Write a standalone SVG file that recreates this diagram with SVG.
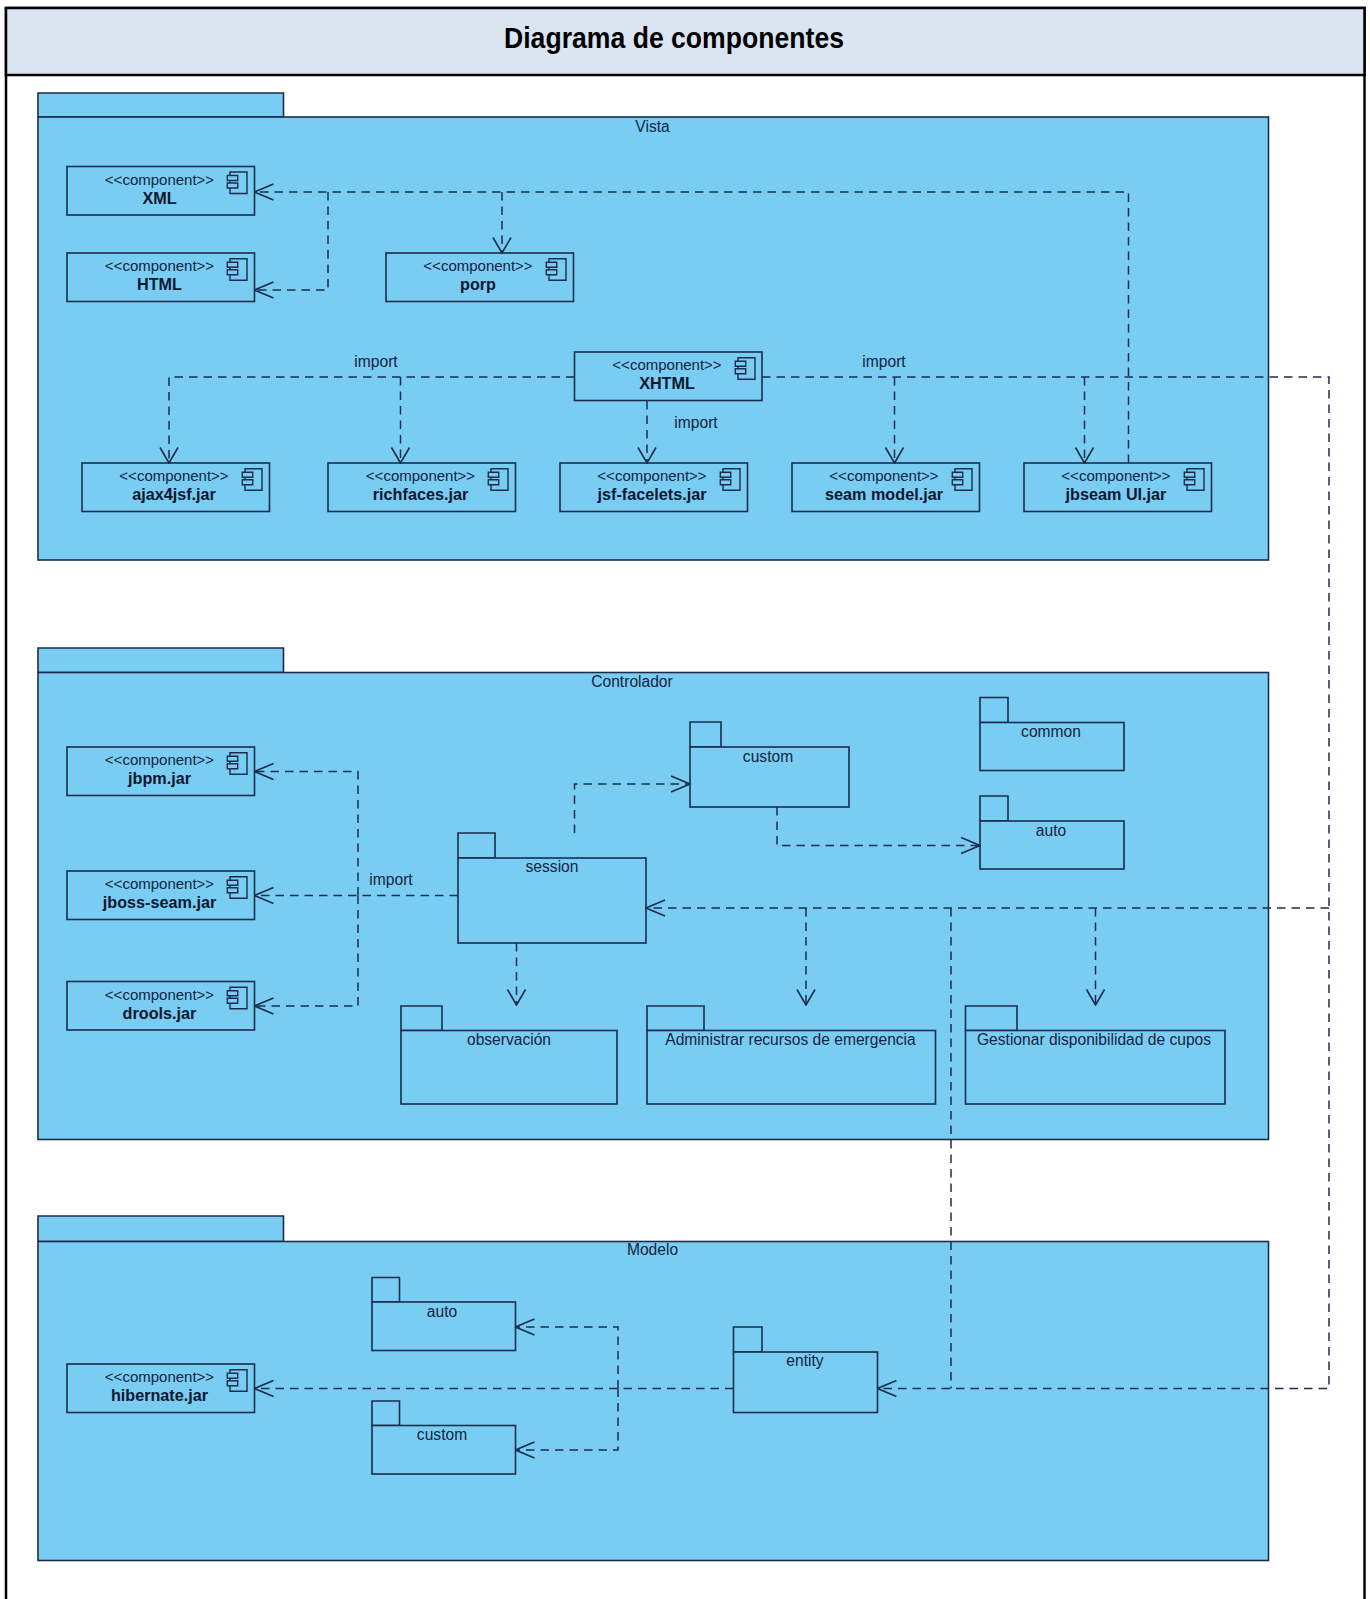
<svg xmlns="http://www.w3.org/2000/svg" width="1370" height="1599" viewBox="0 0 1370 1599">
<style>
text{font-family:"Liberation Sans",Arial,sans-serif;fill:#14233f;text-anchor:middle}
.t{font-size:29px;font-weight:bold;fill:#000}
.s{font-size:15px}
.n{font-size:16.200px;font-weight:bold;fill:#0b1730}
.l{font-size:15.600px}
.pk{fill:#79cdf3;stroke:#1b2c4c;stroke-width:1.6}
.ln{fill:none;stroke:#1b2c4c;stroke-width:1.5;stroke-dasharray:8.500 6}
.ar{fill:none;stroke:#1b2c4c;stroke-width:1.6}
.ic{fill:#79cdf3;stroke:#1b2c4c;stroke-width:1.4}
</style>
<defs>
<marker id="h" markerUnits="userSpaceOnUse" viewBox="-21 -10 22 20" refX="0" refY="0" markerWidth="22" markerHeight="20" orient="auto"><path class="ar" d="M-19,-8L0,0L-19,8"/></marker>
<marker id="v" markerUnits="userSpaceOnUse" viewBox="-17 -11 18 22" refX="0" refY="0" markerWidth="18" markerHeight="22" orient="auto"><path class="ar" d="M-15.500,-9L0,0L-15.500,9"/></marker>
<g id="i"><path class="ic" d="M-17,0H0V21.500H-17Z"/><path class="ic" d="M-19.700,3.500H-9.300V8.500H-19.700ZM-19.700,11H-9.300V16H-19.700Z"/></g>
</defs>
<rect width="1370" height="1599" fill="#fff"/>
<g id="frame"><rect x="6" y="8" width="1358.500" height="1600" fill="#fff" stroke="#000" stroke-width="2.500"/><rect x="6" y="8" width="1358.500" height="67" fill="#dbe5f1" stroke="#000" stroke-width="2.500"/><text class="t" x="674" y="48" textLength="340" lengthAdjust="spacingAndGlyphs">Diagrama de componentes</text></g>

<g id="vista"><path class="pk" d="M38,93H283.500V117H38Z"/><rect class="pk" x="38" y="117" width="1230.500" height="443"/><text class="l" x="652.500" y="132">Vista</text></g>
<g id="controlador"><path class="pk" d="M38,648H283.500V672.500H38Z"/><rect class="pk" x="38" y="672.500" width="1230.500" height="467"/><text class="l" x="632" y="687">Controlador</text></g>
<g id="modelo"><path class="pk" d="M38,1216H283.500V1241.500H38Z"/><rect class="pk" x="38" y="1241.500" width="1230.500" height="319"/><text class="l" x="652.500" y="1255">Modelo</text></g>

<g id="xml"><rect class="pk" x="67" y="166.500" width="187.500" height="48.500"/><use href="#i" x="247" y="172"/><text class="s" x="159.500" y="185">&lt;&lt;component&gt;&gt;</text><text class="n" x="159.500" y="204">XML</text></g>
<g id="html"><rect class="pk" x="67" y="253" width="187.500" height="48.500"/><use href="#i" x="247" y="258.700"/><text class="s" x="159.500" y="271">&lt;&lt;component&gt;&gt;</text><text class="n" x="159.500" y="290">HTML</text></g>
<g id="porp"><rect class="pk" x="386" y="253" width="187.500" height="48.500"/><use href="#i" x="566" y="258.700"/><text class="s" x="478" y="271">&lt;&lt;component&gt;&gt;</text><text class="n" x="478" y="290">porp</text></g>
<g id="xhtml"><rect class="pk" x="574.500" y="352" width="187.500" height="48.500"/><use href="#i" x="755" y="357.700"/><text class="s" x="667" y="370">&lt;&lt;component&gt;&gt;</text><text class="n" x="667" y="389">XHTML</text></g>
<g id="ajax"><rect class="pk" x="82" y="463" width="187.500" height="48.500"/><use href="#i" x="262" y="468.700"/><text class="s" x="174" y="481">&lt;&lt;component&gt;&gt;</text><text class="n" x="174" y="500">ajax4jsf.jar</text></g>
<g id="richfaces"><rect class="pk" x="328" y="463" width="187.500" height="48.500"/><use href="#i" x="508" y="468.700"/><text class="s" x="420.500" y="481">&lt;&lt;component&gt;&gt;</text><text class="n" x="420.500" y="500">richfaces.jar</text></g>
<g id="facelets"><rect class="pk" x="560" y="463" width="187.500" height="48.500"/><use href="#i" x="740" y="468.700"/><text class="s" x="652" y="481">&lt;&lt;component&gt;&gt;</text><text class="n" x="652" y="500">jsf-facelets.jar</text></g>
<g id="seam"><rect class="pk" x="792" y="463" width="187.500" height="48.500"/><use href="#i" x="972" y="468.700"/><text class="s" x="884" y="481">&lt;&lt;component&gt;&gt;</text><text class="n" x="884" y="500">seam model.jar</text></g>
<g id="jbseam"><rect class="pk" x="1024" y="463" width="187.500" height="48.500"/><use href="#i" x="1204" y="468.700"/><text class="s" x="1116" y="481">&lt;&lt;component&gt;&gt;</text><text class="n" x="1116" y="500">jbseam UI.jar</text></g>

<g id="jbpm"><rect class="pk" x="67" y="747" width="187.500" height="48.500"/><use href="#i" x="247" y="752.700"/><text class="s" x="159.500" y="765">&lt;&lt;component&gt;&gt;</text><text class="n" x="159.500" y="784">jbpm.jar</text></g>
<g id="jboss"><rect class="pk" x="67" y="871" width="187.500" height="48.500"/><use href="#i" x="247" y="876.700"/><text class="s" x="159.500" y="889">&lt;&lt;component&gt;&gt;</text><text class="n" x="159.500" y="908">jboss-seam.jar</text></g>
<g id="drools"><rect class="pk" x="67" y="981.500" width="187.500" height="48.500"/><use href="#i" x="247" y="987.200"/><text class="s" x="159.500" y="999.500">&lt;&lt;component&gt;&gt;</text><text class="n" x="159.500" y="1018.500">drools.jar</text></g>
<g id="hibernate"><rect class="pk" x="67" y="1364" width="187.500" height="48.500"/><use href="#i" x="247" y="1369.700"/><text class="s" x="159.500" y="1382">&lt;&lt;component&gt;&gt;</text><text class="n" x="159.500" y="1401">hibernate.jar</text></g>

<g id="session"><path class="pk" d="M458,833H495V858H458Z"/><rect class="pk" x="458" y="858" width="188" height="85"/><text class="l" x="552" y="872">session</text></g>
<g id="custom"><path class="pk" d="M690,722H721V747H690Z"/><rect class="pk" x="690" y="747" width="159" height="60"/><text class="l" x="768" y="762">custom</text></g>
<g id="common"><path class="pk" d="M980,697.500H1008V722.500H980Z"/><rect class="pk" x="980" y="722.500" width="144" height="48"/><text class="l" x="1051" y="737">common</text></g>
<g id="auto"><path class="pk" d="M980,796H1008V821H980Z"/><rect class="pk" x="980" y="821" width="144" height="48"/><text class="l" x="1051" y="835.500">auto</text></g>
<g id="observacion"><path class="pk" d="M401,1006H442V1030.500H401Z"/><rect class="pk" x="401" y="1030.500" width="216" height="73.500"/><text class="l" x="509" y="1045">observación</text></g>
<g id="recursos"><path class="pk" d="M647,1006H704V1030.500H647Z"/><rect class="pk" x="647" y="1030.500" width="288.500" height="73.500"/><text class="l" x="790.500" y="1045">Administrar recursos de emergencia</text></g>
<g id="cupos"><path class="pk" d="M965.500,1006H1017V1030.500H965.500Z"/><rect class="pk" x="965.500" y="1030.500" width="259.500" height="73.500"/><text class="l" x="1094" y="1045">Gestionar disponibilidad de cupos</text></g>
<g id="m-auto"><path class="pk" d="M372,1277.500H399.500V1302H372Z"/><rect class="pk" x="372" y="1302" width="143.500" height="48.500"/><text class="l" x="442" y="1317">auto</text></g>
<g id="m-custom"><path class="pk" d="M372,1401H399.500V1425.500H372Z"/><rect class="pk" x="372" y="1425.500" width="143.500" height="48.500"/><text class="l" x="442" y="1440">custom</text></g>
<g id="entity"><path class="pk" d="M733.500,1327H762V1352H733.500Z"/><rect class="pk" x="733.500" y="1352" width="144" height="60.500"/><text class="l" x="805" y="1366">entity</text></g>

<g id="connectors">
<path class="ln" marker-end="url(#h)" d="M1128.500,463V192H254.500"/>
<path class="ln" marker-end="url(#h)" d="M328,192V290H254.500"/>
<path class="ln" marker-end="url(#v)" d="M502,192V253"/>
<path class="ln" marker-end="url(#v)" d="M574.500,377H169V463"/>
<path class="ln" marker-end="url(#v)" d="M400.500,377V463"/>
<path class="ln" marker-end="url(#v)" d="M647,401V463"/>
<path class="ln" marker-end="url(#v)" d="M894.500,377V463"/>
<path class="ln" marker-end="url(#v)" d="M1084.500,377V463"/>
<path class="ln" marker-end="url(#h)" d="M762,377H1329V1388.500H877.500"/>
<path class="ln" marker-end="url(#h)" d="M1329,908H646"/>
<path class="ln" d="M951,908V1388.500"/>
<path class="ln" marker-end="url(#v)" d="M806,908V1005"/>
<path class="ln" marker-end="url(#v)" d="M1095.500,908V1005"/>
<path class="ln" marker-end="url(#v)" d="M516.500,943V1005"/>
<path class="ln" marker-end="url(#h)" d="M574.500,833V784H690"/>
<path class="ln" marker-end="url(#h)" d="M777,807V845.500H980"/>
<path class="ln" marker-end="url(#h)" d="M458,895.500H254.500"/>
<path class="ln" marker-end="url(#h)" d="M358,895.500V771.500H254.500"/>
<path class="ln" marker-end="url(#h)" d="M358,895.500V1006H254.500"/>
<path class="ln" marker-end="url(#h)" d="M733.500,1388.500H254.500"/>
<path class="ln" marker-end="url(#h)" d="M618,1388.500V1327H515.500"/>
<path class="ln" marker-end="url(#h)" d="M618,1388.500V1450H515.500"/>
<text class="l" x="376" y="367">import</text>
<text class="l" x="884" y="367">import</text>
<text class="l" x="696" y="428">import</text>
<text class="l" x="391" y="885">import</text>
</g>
</svg>
